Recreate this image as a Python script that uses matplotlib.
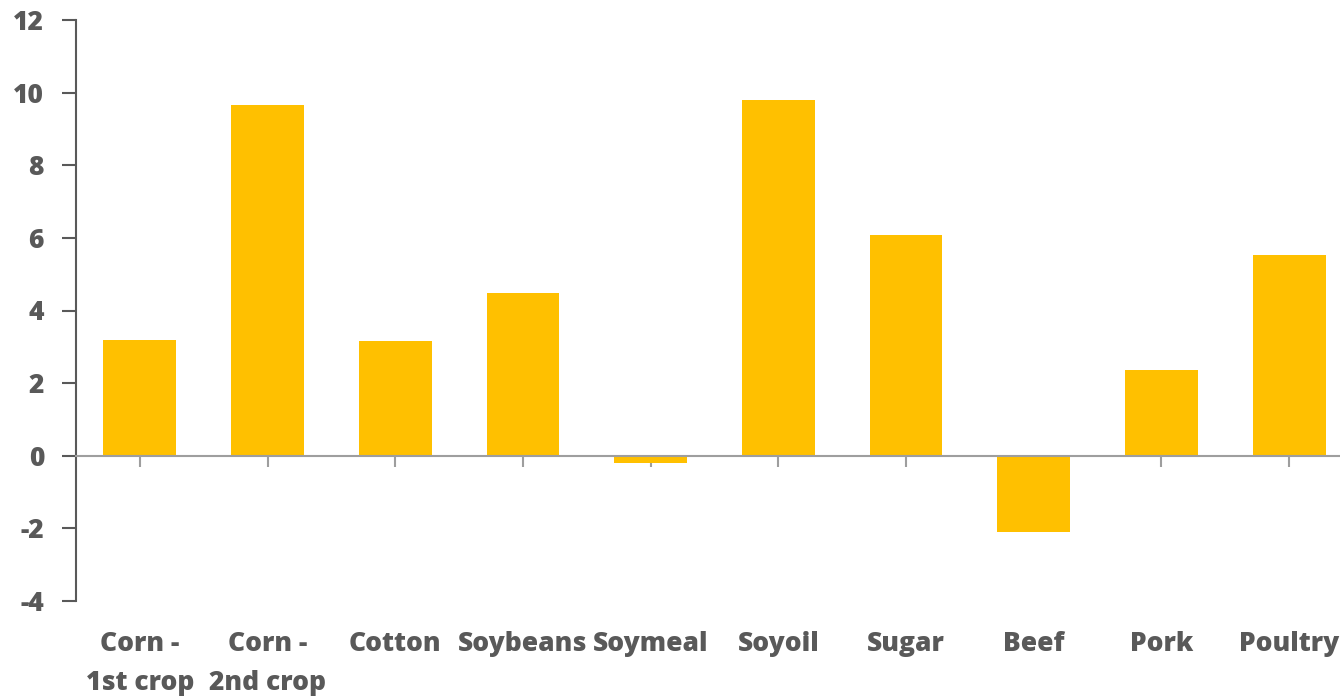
import matplotlib.pyplot as plt
import numpy as np

plt.rcParams['font.family'] = ['Open Sans', 'DejaVu Sans']

categories = ['Corn -\n1st crop', 'Corn -\n2nd crop', 'Cotton', 'Soybeans', 'Soymeal',
              'Soyoil', 'Sugar', 'Beef', 'Pork', 'Poultry']
values = [3.2, 9.65, 3.17, 4.47, -0.19, 9.8, 6.07, -2.09, 2.37, 5.52]
y_ticks = [-4, -2, 0, 2, 4, 6, 8, 10, 12]

text_color = '#595959'
bar_color = '#FFC000'

fig = plt.figure(figsize=(13.4, 6.97), dpi=100)
ax = fig.add_axes([76 / 1340, 1 - 601 / 697, 1277 / 1340, 581 / 697])

x = np.arange(len(categories))
ax.bar(x, values, width=0.57, color=bar_color, zorder=2)

ax.set_xlim(-0.5, len(categories) - 0.5)
ax.set_ylim(-4, 12)
ax.set_yticks(y_ticks)
ax.set_yticklabels([str(t) for t in y_ticks], fontsize=19, fontweight='heavy', color=text_color)
ax.tick_params(axis='y', direction='out', length=10, width=1.5, color=text_color, pad=13)

for s in ['top', 'right']:
    ax.spines[s].set_visible(False)
ax.spines['left'].set_color(text_color)
ax.spines['left'].set_linewidth(1.5)

# category axis sits on the zero line
ax.spines['bottom'].set_position(('data', 0))
ax.spines['bottom'].set_color('#9e9e9e')
ax.spines['bottom'].set_linewidth(1.5)
ax.spines['bottom'].set_zorder(3)
ax.set_xticks(x)
ax.set_xticklabels([])
ax.tick_params(axis='x', direction='out', length=8, width=1.5, color='#9e9e9e')

for i, lab in enumerate(categories):
    ax.annotate(lab, xy=(i, -4), xycoords='data', xytext=(0, -30), textcoords='offset pixels',
                ha='center', va='top', fontsize=19, fontweight='heavy', color=text_color,
                linespacing=1.65, annotation_clip=False)

fig.savefig('out.png', dpi=100)
